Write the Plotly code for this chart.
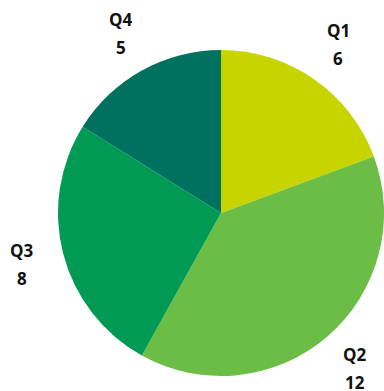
import math
import plotly.graph_objects as go

labels = ["Q1", "Q2", "Q3", "Q4"]
values = [6, 12, 8, 5]
colors = ["#c8d400", "#6cbd45", "#009a55", "#00705f"]

W, H = 384, 391
cx, cy, R = 221, 213, 163

fig = go.Figure(go.Pie(
    labels=labels,
    values=values,
    sort=False,
    direction="clockwise",
    rotation=0,
    marker=dict(colors=colors, line=dict(width=0)),
    textinfo="none",
    domain=dict(x=[(cx - R) / W, (cx + R) / W], y=[(H - cy - R) / H, (H - cy + R) / H]),
    hoverinfo="label+value",
    showlegend=False,
))

# labels placed outside along each slice's mid-angle
total = sum(values)
cum = 0
lr = R * 1.26
for lab, v in zip(labels, values):
    mid = (cum + v / 2) / total * 2 * math.pi
    cum += v
    dx = lr * math.sin(mid)
    dy = lr * math.cos(mid)
    for txt, off in ((lab, 14), (str(v), -14)):
        fig.add_annotation(
            x=cx / W, y=(H - cy) / H, xref="paper", yref="paper",
            text="<b>" + txt + "</b>", showarrow=False,
            xshift=dx, yshift=dy + off,
            font=dict(family="Open Sans", size=17, color="#111111"),
            xanchor="center", yanchor="middle",
        )

fig.update_layout(
    width=W, height=H,
    margin=dict(l=0, r=0, t=0, b=0),
    paper_bgcolor="white",
    plot_bgcolor="white",
)

fig.write_html("out.html")
